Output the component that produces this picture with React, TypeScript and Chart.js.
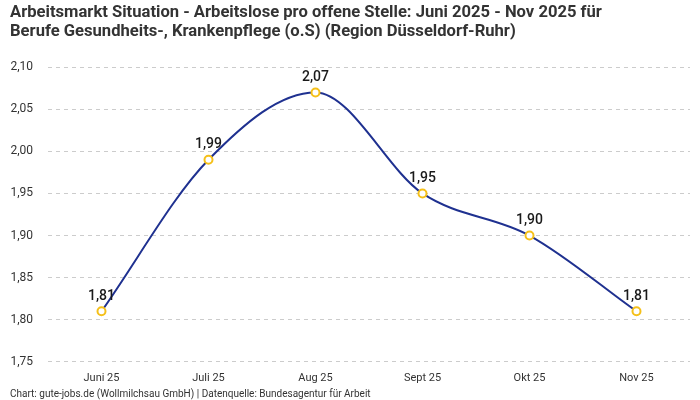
import { Chart, registerables } from "chart.js";
import { useEffect, useRef } from "react";

Chart.register(...registerables);

const months = ["Juni 25", "Juli 25", "Aug 25", "Sept 25", "Okt 25", "Nov 25"];
const ratio = [1.81, 1.99, 2.07, 1.95, 1.9, 1.81];

const titleLines = [
  "Arbeitsmarkt Situation - Arbeitslose pro offene Stelle: Juni 2025 - Nov 2025 für",
  "Berufe Gesundheits-, Krankenpflege (o.S) (Region Düsseldorf-Ruhr)",
];
const sourceNote = "Chart: gute-jobs.de (Wollmilchsau GmbH) | Datenquelle: Bundesagentur für Arbeit";

const FONT = "Roboto, 'Noto Sans', sans-serif";
const fmt = (v: number) => v.toFixed(2).replace(".", ",");

const valueLabels = {
  id: "valueLabels",
  afterDatasetsDraw(chart: Chart) {
    const ctx = chart.ctx;
    const meta = chart.getDatasetMeta(0);
    ctx.save();
    ctx.font = `500 14px ${FONT}`;
    ctx.fillStyle = "#1a1a1a";
    ctx.textAlign = "center";
    ctx.textBaseline = "bottom";
    meta.data.forEach((pt, i) => {
      ctx.fillText(fmt(ratio[i]), pt.x, pt.y - 8);
    });
    ctx.restore();
  },
};

export default function App() {
  const canvasRef = useRef<HTMLCanvasElement | null>(null);
  const chartRef = useRef<Chart | null>(null);

  useEffect(() => {
    document.body.style.margin = "0";
    if (chartRef.current) chartRef.current.destroy();
    const ctx = canvasRef.current?.getContext("2d");
    if (!ctx) return;
    chartRef.current = new Chart(ctx, {
      type: "line",
      data: {
        labels: months,
        datasets: [
          {
            data: ratio,
            borderColor: "#1f3190",
            borderWidth: 2,
            cubicInterpolationMode: "monotone",
            pointRadius: 4,
            pointBorderWidth: 2,
            pointBackgroundColor: "#ffffff",
            pointBorderColor: "#f5c01a",
          },
        ],
      },
      options: {
        animation: false,
        responsive: false,
        layout: { padding: { left: 10, right: 10, top: 0, bottom: 0 } },
        plugins: {
          legend: { display: false },
          tooltip: { enabled: false },
          title: {
            display: true,
            text: titleLines,
            align: "start",
            color: "#333333",
            font: { family: FONT, size: 16.6, weight: "bold", lineHeight: 1.12 },
            padding: { top: 4, bottom: 26 },
          },
          subtitle: {
            display: true,
            position: "bottom",
            text: sourceNote,
            align: "start",
            color: "#333333",
            font: { family: FONT, size: 10 },
            padding: { top: 1, bottom: 0 },
          },
        },
        scales: {
          x: {
            offset: true,
            grid: { display: false },
            border: { display: false },
            ticks: { color: "#333333", font: { family: FONT, size: 11 }, padding: 2 },
          },
          y: {
            min: 1.75,
            max: 2.1,
            afterFit: (scale) => {
              scale.width = 38;
            },
            grid: { color: "#cccccc", tickLength: 0 },
            border: { display: false, dash: [4, 4] },
            ticks: {
              stepSize: 0.05,
              color: "#333333",
              font: { family: FONT, size: 12 },
              padding: 15,
              callback: (v) => fmt(Number(v)),
            },
          },
        },
      },
      plugins: [valueLabels],
    });
    return () => {
      chartRef.current?.destroy();
      chartRef.current = null;
    };
  }, []);

  return (
    <div style={{ width: 700, height: 400 }}>
      <canvas ref={canvasRef} width={700} height={400} style={{ width: "700px", height: "400px" }} />
    </div>
  );
}
